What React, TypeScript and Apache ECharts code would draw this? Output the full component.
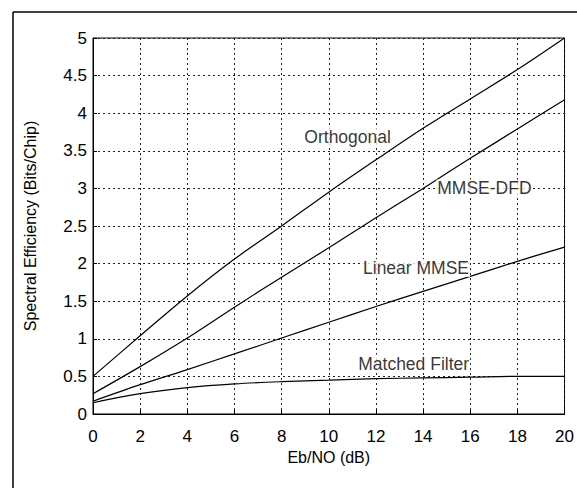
import React, { useEffect, useRef } from "react";
import * as echarts from "echarts";

const ebNo = [0, 2, 4, 6, 8, 10, 12, 14, 16, 18, 20];
const orthogonal = [0.5, 1.04, 1.57, 2.06, 2.5, 2.95, 3.38, 3.8, 4.19, 4.58, 5.0];
const mmseDfd = [0.27, 0.63, 1.01, 1.42, 1.82, 2.21, 2.61, 3.0, 3.4, 3.79, 4.18];
const linearMmse = [0.17, 0.39, 0.59, 0.8, 1.01, 1.22, 1.43, 1.63, 1.83, 2.03, 2.22];
const matchedFilter = [0.15, 0.27, 0.35, 0.4, 0.43, 0.45, 0.47, 0.48, 0.49, 0.5, 0.5];

const curveLabels = ["Orthogonal", "MMSE-DFD", "Linear MMSE", "Matched Filter"];
const labelX = [10.8, 16.6, 13.7, 13.6];
const labelY = [3.68, 3.0, 1.94, 0.67];

const FONT = "'Liberation Sans', Arial, Helvetica, sans-serif";

export default function App() {
  const ref = useRef<HTMLDivElement>(null);
  useEffect(() => {
    if (!ref.current) return;
    const chart = echarts.init(ref.current, undefined, { renderer: "svg" });
    const mk = (name: string, vals: number[]) => ({
      name,
      type: "line",
      data: ebNo.map((x, i) => [x, vals[i]]),
      showSymbol: false,
      symbol: "none",
      smooth: 0.35,
      lineStyle: { color: "#000", width: 1.2 },
      z: 3,
    });
    chart.setOption({
      animation: false,
      backgroundColor: "#fff",
      textStyle: { fontFamily: FONT },
      grid: {
        left: 93,
        right: 10,
        top: 38,
        bottom: 74,
        show: true,
        borderColor: "#000",
        borderWidth: 1,
      },
      xAxis: {
        type: "value",
        min: 0,
        max: 20,
        interval: 2,
        name: "Eb/NO (dB)",
        nameLocation: "middle",
        nameGap: 32,
        nameTextStyle: { color: "#000", fontSize: 16, fontFamily: FONT },
        axisLine: { show: true, lineStyle: { color: "#000", width: 1 } },
        axisTick: { show: true, inside: true, length: 4, lineStyle: { color: "#000" } },
        axisLabel: { color: "#000", fontSize: 17, margin: 14, fontFamily: FONT },
        splitLine: { show: true, lineStyle: { color: "#222", type: [2, 3], width: 1 } },
      },
      yAxis: {
        type: "value",
        min: 0,
        max: 5,
        interval: 0.5,
        name: "Spectral Efficiency (Bits/Chip)",
        nameLocation: "middle",
        nameGap: 55,
        nameTextStyle: { color: "#000", fontSize: 16, fontFamily: FONT },
        axisLine: { show: true, lineStyle: { color: "#000", width: 1 } },
        axisTick: { show: true, inside: true, length: 4, lineStyle: { color: "#000" } },
        axisLabel: { color: "#000", fontSize: 17, margin: 6, fontFamily: FONT },
        splitLine: { show: true, lineStyle: { color: "#222", type: [2, 3], width: 1 } },
      },
      graphic: [
        { type: "line", shape: { x1: 13, y1: 12, x2: 577, y2: 12 }, style: { stroke: "#000", lineWidth: 1.5 } },
        { type: "line", shape: { x1: 13, y1: 12, x2: 13, y2: 488 }, style: { stroke: "#000", lineWidth: 1.5 } },
      ],
      series: [
        mk("Orthogonal", orthogonal),
        mk("MMSE-DFD", mmseDfd),
        mk("Linear MMSE", linearMmse),
        mk("Matched Filter", matchedFilter),
        {
          name: "labels",
          type: "scatter",
          symbolSize: 1,
          itemStyle: { color: "rgba(0,0,0,0)" },
          data: curveLabels.map((n, i) => ({ name: n, value: [labelX[i], labelY[i]] })),
          label: {
            show: true,
            position: "inside",
            formatter: (p: any) => p.name,
            color: "#000",
            fontSize: 17.5,
            fontFamily: FONT,
            backgroundColor: "#fff",
            padding: [0, 1],
          },
          z: 5,
        },
      ],
    });
    return () => chart.dispose();
  }, []);
  return (
    <div
      ref={ref}
      style={{ position: "fixed", left: 0, top: 0, width: 577, height: 488, background: "#fff" }}
    />
  );
}
